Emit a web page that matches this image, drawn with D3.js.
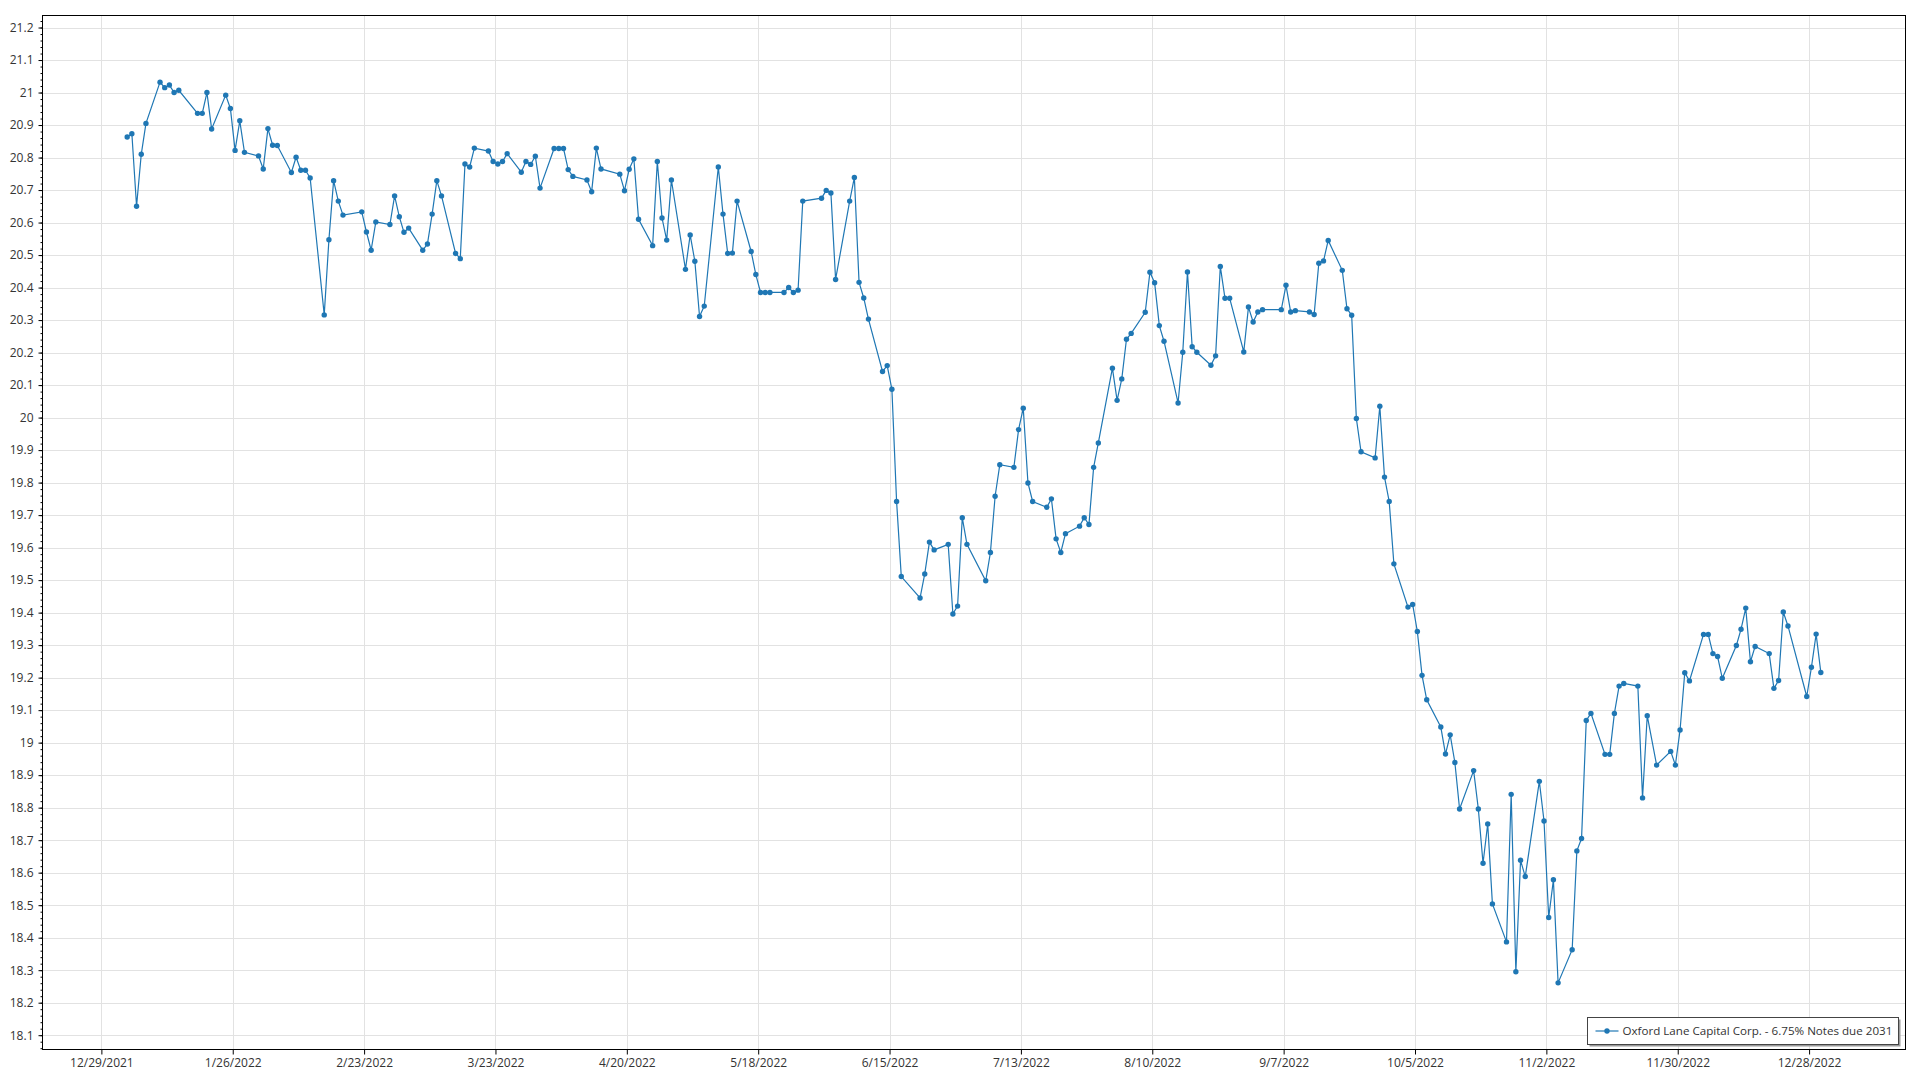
<!DOCTYPE html>
<html>
<head>
<meta charset="utf-8">
<script src="https://cdn.jsdelivr.net/npm/d3@7"></script>
<style>
  html, body { margin: 0; padding: 0; background: #ffffff; }
  svg { display: block; }
  text { font-family: "Open Sans", "Noto Sans", sans-serif; fill: #333333; }
</style>
</head>
<body>
<svg id="chart" width="1920" height="1080"></svg>
<script>
// ---- data ----
const seriesName = "Oxford Lane Capital Corp. - 6.75% Notes due 2031";
const dates = [
  "2022-01-03","2022-01-04","2022-01-05","2022-01-06","2022-01-07",
  "2022-01-10","2022-01-11","2022-01-12","2022-01-13","2022-01-14",
  "2022-01-18","2022-01-19","2022-01-20","2022-01-21",
  "2022-01-24","2022-01-25","2022-01-26","2022-01-27","2022-01-28",
  "2022-01-31","2022-02-01","2022-02-02","2022-02-03","2022-02-04",
  "2022-02-07","2022-02-08","2022-02-09","2022-02-10","2022-02-11",
  "2022-02-14","2022-02-15","2022-02-16","2022-02-17","2022-02-18",
  "2022-02-22","2022-02-23","2022-02-24","2022-02-25",
  "2022-02-28","2022-03-01","2022-03-02","2022-03-03","2022-03-04",
  "2022-03-07","2022-03-08","2022-03-09","2022-03-10","2022-03-11",
  "2022-03-14","2022-03-15","2022-03-16","2022-03-17","2022-03-18",
  "2022-03-21","2022-03-22","2022-03-23","2022-03-24","2022-03-25",
  "2022-03-28","2022-03-29","2022-03-30","2022-03-31","2022-04-01",
  "2022-04-04","2022-04-05","2022-04-06","2022-04-07","2022-04-08",
  "2022-04-11","2022-04-12","2022-04-13","2022-04-14",
  "2022-04-18","2022-04-19","2022-04-20","2022-04-21","2022-04-22",
  "2022-04-25","2022-04-26","2022-04-27","2022-04-28","2022-04-29",
  "2022-05-02","2022-05-03","2022-05-04","2022-05-05","2022-05-06",
  "2022-05-09","2022-05-10","2022-05-11","2022-05-12","2022-05-13",
  "2022-05-16","2022-05-17","2022-05-18","2022-05-19","2022-05-20",
  "2022-05-23","2022-05-24","2022-05-25","2022-05-26","2022-05-27",
  "2022-05-31","2022-06-01","2022-06-02","2022-06-03",
  "2022-06-06","2022-06-07","2022-06-08","2022-06-09","2022-06-10",
  "2022-06-13","2022-06-14","2022-06-15","2022-06-16","2022-06-17",
  "2022-06-21","2022-06-22","2022-06-23","2022-06-24",
  "2022-06-27","2022-06-28","2022-06-29","2022-06-30","2022-07-01",
  "2022-07-05","2022-07-06","2022-07-07","2022-07-08",
  "2022-07-11","2022-07-12","2022-07-13","2022-07-14","2022-07-15",
  "2022-07-18","2022-07-19","2022-07-20","2022-07-21","2022-07-22",
  "2022-07-25","2022-07-26","2022-07-27","2022-07-28","2022-07-29",
  "2022-08-01","2022-08-02","2022-08-03","2022-08-04","2022-08-05",
  "2022-08-08","2022-08-09","2022-08-10","2022-08-11","2022-08-12",
  "2022-08-15","2022-08-16","2022-08-17","2022-08-18","2022-08-19",
  "2022-08-22","2022-08-23","2022-08-24","2022-08-25","2022-08-26",
  "2022-08-29","2022-08-30","2022-08-31","2022-09-01","2022-09-02",
  "2022-09-06","2022-09-07","2022-09-08","2022-09-09",
  "2022-09-12","2022-09-13","2022-09-14","2022-09-15","2022-09-16",
  "2022-09-19","2022-09-20","2022-09-21","2022-09-22","2022-09-23",
  "2022-09-26","2022-09-27","2022-09-28","2022-09-29","2022-09-30",
  "2022-10-03","2022-10-04","2022-10-05","2022-10-06","2022-10-07",
  "2022-10-10","2022-10-11","2022-10-12","2022-10-13","2022-10-14",
  "2022-10-17","2022-10-18","2022-10-19","2022-10-20","2022-10-21",
  "2022-10-24","2022-10-25","2022-10-26","2022-10-27","2022-10-28",
  "2022-10-31","2022-11-01","2022-11-02","2022-11-03","2022-11-04",
  "2022-11-07","2022-11-08","2022-11-09","2022-11-10","2022-11-11",
  "2022-11-14","2022-11-15","2022-11-16","2022-11-17","2022-11-18",
  "2022-11-21","2022-11-22","2022-11-23","2022-11-25",
  "2022-11-28","2022-11-29","2022-11-30","2022-12-01","2022-12-02",
  "2022-12-05","2022-12-06","2022-12-07","2022-12-08","2022-12-09",
  "2022-12-12","2022-12-13","2022-12-14","2022-12-15","2022-12-16",
  "2022-12-19","2022-12-20","2022-12-21","2022-12-22","2022-12-23",
  "2022-12-27","2022-12-28","2022-12-29","2022-12-30"
];
const prices = [
  20.863,20.873,20.650,20.810,20.905,
  21.032,21.015,21.023,21.000,21.007,
  20.936,20.936,21.000,20.888,
  20.992,20.951,20.822,20.913,20.816,
  20.805,20.765,20.889,20.838,20.837,
  20.754,20.801,20.761,20.761,20.737,
  20.316,20.547,20.729,20.666,20.623,
  20.633,20.571,20.515,20.602,
  20.594,20.682,20.618,20.570,20.583,
  20.515,20.534,20.626,20.729,20.682,
  20.505,20.489,20.780,20.771,20.829,
  20.820,20.788,20.780,20.788,20.812,
  20.755,20.788,20.779,20.804,20.706,
  20.828,20.828,20.828,20.763,20.742,
  20.731,20.695,20.829,20.765,
  20.749,20.698,20.764,20.796,20.610,
  20.529,20.788,20.614,20.546,20.731,
  20.456,20.562,20.481,20.311,20.343,
  20.771,20.626,20.505,20.506,20.666,
  20.511,20.440,20.385,20.385,20.385,
  20.385,20.400,20.385,20.392,20.666,
  20.675,20.699,20.691,20.425,
  20.666,20.739,20.416,20.368,20.303,
  20.142,20.160,20.087,19.742,19.511,
  19.445,19.519,19.617,19.593,
  19.610,19.396,19.420,19.692,19.610,
  19.498,19.585,19.758,19.855,
  19.847,19.963,20.029,19.799,19.742,
  19.724,19.750,19.627,19.585,19.643,
  19.666,19.692,19.671,19.847,19.922,
  20.152,20.053,20.119,20.241,20.259,
  20.324,20.447,20.415,20.283,20.235,
  20.045,20.201,20.448,20.218,20.201,
  20.161,20.190,20.465,20.367,20.367,
  20.202,20.340,20.294,20.325,20.332,
  20.332,20.407,20.325,20.329,
  20.325,20.317,20.475,20.482,20.545,
  20.453,20.335,20.315,19.997,19.895,
  19.876,20.035,19.817,19.742,19.550,
  19.417,19.425,19.342,19.207,19.132,
  19.048,18.965,19.024,18.939,18.796,
  18.914,18.796,18.629,18.750,18.504,
  18.387,18.841,18.295,18.638,18.588,
  18.881,18.759,18.462,18.578,18.261,
  18.363,18.667,18.705,19.068,19.090,
  18.964,18.964,19.090,19.174,19.182,
  19.174,18.830,19.083,18.931,
  18.973,18.931,19.039,19.215,19.190,
  19.333,19.333,19.274,19.265,19.198,
  19.299,19.349,19.414,19.249,19.296,
  19.274,19.167,19.191,19.402,19.359,
  19.142,19.232,19.334,19.216
];
const xTickDates = [
  "2021-12-29","2022-01-26","2022-02-23","2022-03-23","2022-04-20",
  "2022-05-18","2022-06-15","2022-07-13","2022-08-10","2022-09-07",
  "2022-10-05","2022-11-02","2022-11-30","2022-12-28"
];
const yTickValues = d3.range(181, 213).map(v => v / 10);
const yDomain = [18.056, 21.237];

// ---- layout ----
const W = 1920, H = 1080;
const plot = { left: 42.5, top: 15.5, right: 1905.5, bottom: 1049.5 };
const lineColor = "#1f77b4";

const parseDay = d3.timeParse("%Y-%m-%d");
const parsePoint = s => d3.timeHour.offset(parseDay(s), 12);
const data = dates.map((d, i) => ({ date: parsePoint(d), value: prices[i] }));

const ext = d3.extent(data, d => d.date);
const pad = (ext[1] - ext[0]) * 0.05;
const x = d3.scaleTime()
  .domain([new Date(+ext[0] - pad), new Date(+ext[1] + pad)])
  .range([plot.left, plot.right]);
const y = d3.scaleLinear().domain(yDomain).range([plot.bottom, plot.top]);

const svg = d3.select("#chart");
svg.append("rect").attr("width", W).attr("height", H).attr("fill", "#ffffff");

const xTicks = xTickDates.map(parseDay);
const fmt = d3.timeFormat("%-m/%-d/%Y");

// grid
const grid = svg.append("g");
grid.selectAll(".hg").data(yTickValues).join("line")
  .attr("x1", plot.left).attr("x2", plot.right)
  .attr("y1", d => Math.round(y(d)) + 0.5).attr("y2", d => Math.round(y(d)) + 0.5)
  .attr("stroke", "#e2e2e2").attr("stroke-width", 1);
grid.selectAll(".vg").data(xTicks).join("line")
  .attr("x1", d => Math.round(x(d)) + 0.5).attr("x2", d => Math.round(x(d)) + 0.5)
  .attr("y1", plot.top).attr("y2", plot.bottom)
  .attr("stroke", "#e2e2e2").attr("stroke-width", 1);

// y axis
const yMinor = d3.range(0, 160).map(i => Math.round((18.06 + i * 0.02) * 100) / 100)
  .filter(v => v >= yDomain[0] && v <= yDomain[1]);
const yAxisMinor = d3.axisLeft(y).tickValues(yMinor).tickSize(2).tickFormat("");
const yAxis = d3.axisLeft(y).tickValues(yTickValues).tickSize(4).tickPadding(5)
  .tickFormat(d => d3.format("")(+d.toFixed(1)));
const gyMinor = svg.append("g").attr("transform", `translate(${plot.left},0)`).call(yAxisMinor);
const gy = svg.append("g").attr("transform", `translate(${plot.left},0)`).call(yAxis);
[gy, gyMinor].forEach(g => {
  g.select(".domain").remove();
  g.selectAll(".tick line").attr("stroke", "#000");
});
gy.selectAll(".tick text").style("font-size", "12px").attr("fill", "#333");

// x axis
const xAxis = d3.axisBottom(x).tickValues(xTicks).tickSize(5).tickPadding(4).tickFormat(fmt);
const gx = svg.append("g").attr("transform", `translate(0,${plot.bottom})`).call(xAxis);
gx.select(".domain").remove();
gx.selectAll(".tick line").attr("stroke", "#000");
gx.selectAll(".tick text").style("font-size", "12px").attr("fill", "#333");

// frame
svg.append("rect")
  .attr("x", plot.left).attr("y", plot.top)
  .attr("width", plot.right - plot.left).attr("height", plot.bottom - plot.top)
  .attr("fill", "none").attr("stroke", "#000").attr("stroke-width", 1);

// series
const line = d3.line().x(d => x(d.date)).y(d => y(d.value));
svg.append("path").datum(data)
  .attr("d", line).attr("fill", "none")
  .attr("stroke", lineColor).attr("stroke-width", 1.2);
svg.append("g").selectAll("circle").data(data).join("circle")
  .attr("cx", d => x(d.date)).attr("cy", d => y(d.value)).attr("r", 2.7)
  .attr("fill", lineColor);

// legend
const lg = { x: 1587.5, y: 1017.5, w: 311, h: 27 };
svg.append("rect").attr("x", lg.x + 2).attr("y", lg.y + 2).attr("width", lg.w).attr("height", lg.h)
  .attr("fill", "#9a9a9a");
svg.append("rect").attr("x", lg.x).attr("y", lg.y).attr("width", lg.w).attr("height", lg.h)
  .attr("fill", "#ffffff").attr("stroke", "#444").attr("stroke-width", 1);
const ly = lg.y + lg.h / 2;
svg.append("line").attr("x1", lg.x + 8).attr("x2", lg.x + 31).attr("y1", ly).attr("y2", ly)
  .attr("stroke", lineColor).attr("stroke-width", 1.2);
svg.append("circle").attr("cx", lg.x + 19.5).attr("cy", ly).attr("r", 2.7).attr("fill", lineColor);
svg.append("text").attr("x", lg.x + 35).attr("y", ly).attr("dy", "0.35em")
  .style("font-size", "11.6px").text(seriesName);
</script>
</body>
</html>
